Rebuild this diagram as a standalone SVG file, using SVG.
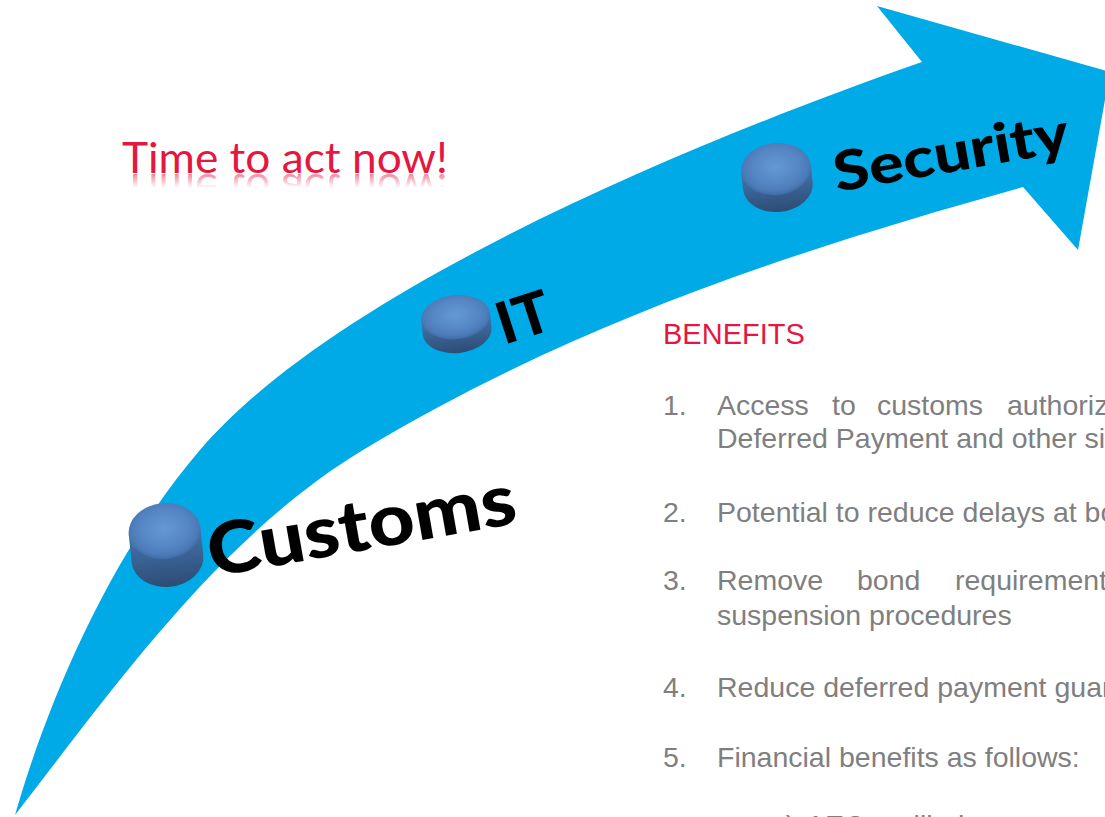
<svg xmlns="http://www.w3.org/2000/svg" width="1105" height="817" viewBox="0 0 1105 817">
  <style>
    .label { font-family: Lato, "Open Sans", "DejaVu Sans", sans-serif; font-weight: 900; fill: #000; }
    .title { font-family: Lato, "Open Sans", "Liberation Sans", sans-serif; font-size: 43px; fill: #E5173F; }
    .head { font-family: "Liberation Sans", Arial, sans-serif; font-size: 29px; fill: #E5173F; }
    .item { font-family: "Liberation Sans", Arial, sans-serif; font-size: 28.5px; fill: #7F7F7F; }
    .top { fill: url(#topFace); }
    .side { fill: url(#sideFace); }
  </style>
  <defs>
    <radialGradient id="topFace" cx="50%" cy="45%" r="55%">
      <stop offset="0" stop-color="#6499D6"/>
      <stop offset="0.6" stop-color="#5686C4"/>
      <stop offset="0.85" stop-color="#4C7BB8"/>
      <stop offset="1" stop-color="#3F6CA6"/>
    </radialGradient>
    <linearGradient id="sideFace" x1="0" y1="0" x2="0" y2="1">
      <stop offset="0" stop-color="#4675AE"/>
      <stop offset="1" stop-color="#2D4C74"/>
    </linearGradient>
    <linearGradient id="fadeGrad" gradientUnits="userSpaceOnUse" x1="0" y1="173" x2="0" y2="188">
      <stop offset="0" stop-color="#fff" stop-opacity="0.55"/>
      <stop offset="1" stop-color="#fff" stop-opacity="0"/>
    </linearGradient>
    <mask id="fade" maskUnits="userSpaceOnUse" x="100" y="173" width="400" height="20">
      <rect x="100" y="173" width="400" height="16" fill="url(#fadeGrad)"/>
    </mask>
  </defs>

  <rect width="1105" height="817" fill="#fff"/>

  <!-- curved progress arrow -->
  <g id="connectors">
    <path id="arrow" fill="#00AAE7"
      d="M 15,815 C 51,690 115,549 200,450 C 330,298 659,154 922,62 L 877,6 L 1110,72 L 1078,250 L 1023,187 C 792,251 568,326 363,450 C 217,538 108,696 15,815 Z"/>
  </g>

  <!-- title with mirrored reflection -->
  <g id="title">
    <text class="title" x="122" y="173" textLength="326" lengthAdjust="spacingAndGlyphs">Time to act now!</text>
    <g mask="url(#fade)">
      <text class="title" x="122" y="173" textLength="326" lengthAdjust="spacingAndGlyphs" transform="translate(0,347) scale(1,-1)">Time to act now!</text>
    </g>
  </g>

  <!-- milestone: Customs -->
  <g id="node-customs">
    <g transform="rotate(-6 166 545)">
      <path class="side" d="M 130,531 L 130,559 A 36,28 0 0 0 202,559 L 202,531 Z"/>
      <ellipse class="top" cx="166" cy="531" rx="36" ry="28"/>
    </g>
    <text class="label" x="212" y="577" font-size="72" textLength="312" lengthAdjust="spacingAndGlyphs" transform="rotate(-10 212 577)">Customs</text>
  </g>

  <!-- milestone: IT -->
  <g id="node-it">
    <g transform="rotate(-6 457 325)">
      <path class="side" d="M 422,317 L 422,331 A 34.5,22 0 0 0 491,331 L 491,317 Z"/>
      <ellipse class="top" cx="456.5" cy="317" rx="34.5" ry="22"/>
    </g>
    <text class="label" x="504" y="345" font-size="58" textLength="54" lengthAdjust="spacingAndGlyphs" transform="rotate(-18 504 345)">IT</text>
  </g>

  <!-- milestone: Security -->
  <g id="node-security">
    <g transform="rotate(-6 777 178)">
      <path class="side" d="M 742,169 L 742,186 A 35,26 0 0 0 812,186 L 812,169 Z"/>
      <ellipse class="top" cx="777" cy="169" rx="35" ry="26"/>
    </g>
    <text class="label" x="837" y="192" font-size="55" textLength="238" lengthAdjust="spacingAndGlyphs" transform="rotate(-10 837 192)">Security</text>
  </g>

  <!-- benefits list -->
  <g id="benefits">
    <text class="head" x="663" y="344">BENEFITS</text>

    <text class="item" x="663" y="415">1.</text>
    <text class="item" y="415"><tspan x="717">Access</tspan><tspan x="832">to</tspan><tspan x="877">customs</tspan><tspan x="1007">authorizations</tspan></text>
    <text class="item" x="717" y="448">Deferred Payment and other simplified procedures</text>

    <text class="item" x="663" y="522">2.</text>
    <text class="item" x="717" y="522">Potential to reduce delays at borders</text>

    <text class="item" x="663" y="590">3.</text>
    <text class="item" y="590"><tspan x="717">Remove</tspan><tspan x="857">bond</tspan><tspan x="955">requirements</tspan></text>
    <text class="item" x="717" y="625">suspension procedures</text>

    <text class="item" x="663" y="697">4.</text>
    <text class="item" x="717" y="697">Reduce deferred payment guarantee</text>

    <text class="item" x="663" y="767">5.</text>
    <text class="item" x="717" y="767">Financial benefits as follows:</text>

    <text class="item" y="835"><tspan x="770">a)</tspan><tspan x="806">AEO</tspan><tspan x="893">will</tspan><tspan x="958">be</tspan></text>
  </g>
</svg>
